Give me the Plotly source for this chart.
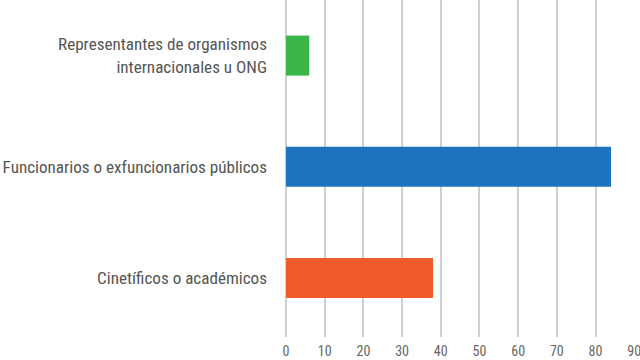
import plotly.graph_objects as go

categories = ["Cinetíficos o académicos",
              "Funcionarios o exfuncionarios públicos",
              "Representantes de organismos<br>internacionales u ONG"]
values = [38, 84, 6]
colors = ["#F15A2B", "#1E73BE", "#3BB44A"]
x_ticks = [0, 10, 20, 30, 40, 50, 60, 70, 80, 90]

font_family = "Liberation Sans Narrow, Roboto Condensed, Arial Narrow, sans-serif"

fig = go.Figure(go.Bar(
    y=categories, x=values, orientation="h",
    marker=dict(color=colors, line=dict(width=0)),
    width=0.36,
))

fig.update_layout(
    width=640, height=360,
    margin=dict(l=286, r=5, t=0, b=23),
    paper_bgcolor="white", plot_bgcolor="white",
    showlegend=False,
    font=dict(family=font_family, size=17, color="#555555"),
)
fig.update_xaxes(
    range=[0, 90.2], tickvals=x_ticks, showgrid=True,
    gridcolor="#d0d0d0", gridwidth=1.5, zeroline=True,
    zerolinecolor="#d0d0d0", zerolinewidth=1.5,
    showline=False, ticks="", tickfont=dict(size=14, color="#666666"),
    fixedrange=True, automargin=False, ticklabeloverflow="allow",
    ticklabelstandoff=4,
)
fig.update_yaxes(
    type="category", range=[-0.53, 2.5], showgrid=False, showline=False,
    ticks="", ticklabelstandoff=18, automargin=False,
    tickfont=dict(size=17.1, color="#555555"),
)

fig.write_html("out.html", config={"displayModeBar": False},
               post_script="document.body.style.margin='0';document.body.style.overflow='hidden';")
